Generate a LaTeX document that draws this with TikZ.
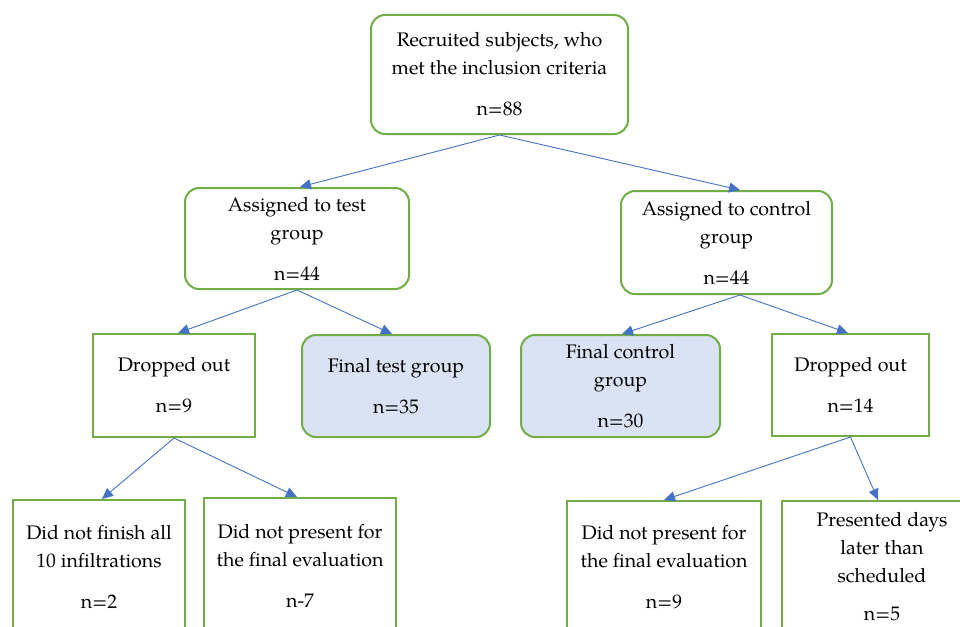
\documentclass[tikz,border=0pt]{standalone}
\usepackage{fontspec}
\setmainfont{texgyrepagella-regular.otf}
\usetikzlibrary{arrows.meta}
\definecolor{bgreen}{HTML}{70AD47}
\definecolor{barrow}{HTML}{4472C4}
\definecolor{bfill}{HTML}{DAE3F3}
\begin{document}
\begin{tikzpicture}[x=1pt,y=-1pt,
  box/.style={draw=bgreen,line width=2pt,fill=white,align=center,
    font=\fontsize{19.6}{28}\selectfont,inner sep=0pt},
  rbox/.style={box,rounded corners=14pt},
  fbox/.style={rbox,fill=bfill},
  arr/.style={draw=barrow,line width=0.9pt,-{Triangle[length=11pt,width=10pt]}}]
\useasboundingbox (0,0) rectangle (960,626);
\clip (0,0) rectangle (960,626);
\fill[white] (0,0) rectangle (960,626);

\node[rbox,minimum width=257pt,minimum height=119pt] (top) at (499.5,74.5)
  {Recruited subjects, who\\met the inclusion criteria\\[13pt]n=88};
\node[rbox,minimum width=224pt,minimum height=101pt] (test) at (297,238.5)
  {Assigned to test\\group\\[13pt]n=44};
\node[rbox,minimum width=211pt,minimum height=103pt] (ctrl) at (726.5,242.5)
  {Assigned to control\\group\\[13pt]n=44};
\node[box,minimum width=162pt,minimum height=103pt] (dropL) at (174,385.5)
  {Dropped out\\[13pt]n=9};
\node[fbox,minimum width=188pt,minimum height=102pt] (finT) at (396,386)
  {Final test group\\[13pt]n=35};
\node[fbox,minimum width=199pt,minimum height=102pt] (finC) at (620.5,386)
  {Final control\\group\\[13pt]n=30};
\node[box,minimum width=157pt,minimum height=102pt] (dropR) at (850.5,385)
  {Dropped out\\[13pt]n=14};
\node[box,minimum width=172pt,minimum height=134pt] (b1) at (99,567)
  {Did not finish all\\10 infiltrations\\[13pt]n=2};
\node[box,minimum width=192pt,minimum height=136pt] (b2) at (300,566)
  {Did not present for\\the final evaluation\\[13pt]n-7};
\node[box,minimum width=194pt,minimum height=132pt] (b3) at (664,567)
  {Did not present for\\the final evaluation\\[13pt]n=9};
\node[box,minimum width=200pt,minimum height=132pt] (b4) at (882,567)
  {Presented days\\later than\\scheduled\\[10pt]n=5};

\draw[arr] (top.south) -- ([xshift=3pt]test.north);
\draw[arr] (top.south) -- ([xshift=13.5pt]ctrl.north);
\draw[arr] (test.south) -- ([xshift=4pt]dropL.north);
\draw[arr] (test.south) -- ([xshift=-4pt]finT.north);
\draw[arr] ([xshift=13.5pt]ctrl.south) -- ([xshift=1.5pt]finC.north);
\draw[arr] ([xshift=13.5pt]ctrl.south) -- ([xshift=-2.5pt]dropR.north);
\draw[arr] (dropL.south) -- ([xshift=3pt]b1.north);
\draw[arr] (dropL.south) -- ([xshift=-3pt]b2.north);
\draw[arr] (dropR.south) -- (b3.north);
\draw[arr] (dropR.south) -- ([xshift=-4pt]b4.north);
\end{tikzpicture}
\end{document}
